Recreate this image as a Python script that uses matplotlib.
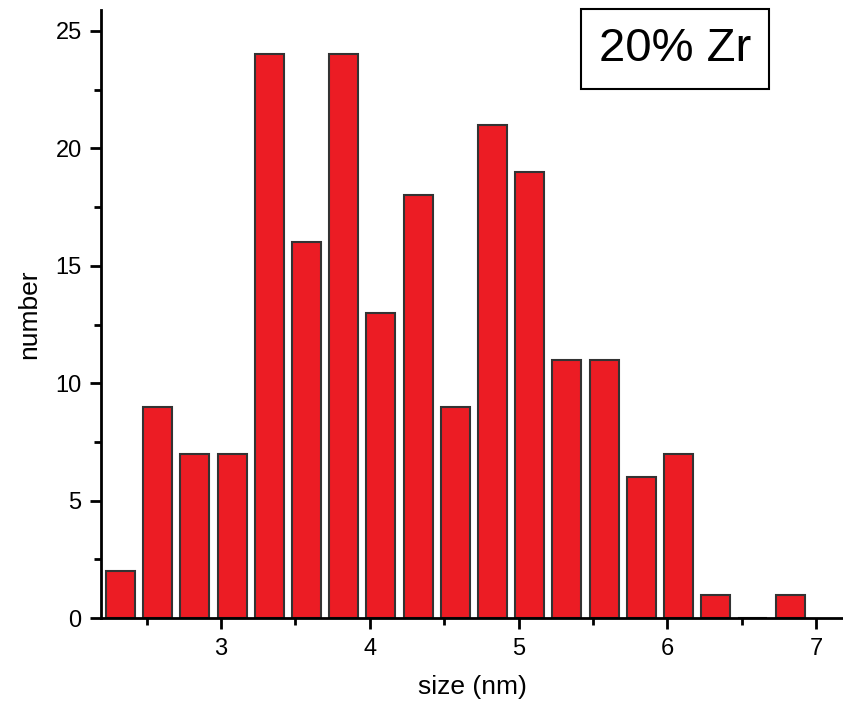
import matplotlib
matplotlib.use('Agg')
import matplotlib.pyplot as plt
from matplotlib.ticker import MultipleLocator

plt.rcParams['font.family'] = ['Liberation Sans', 'DejaVu Sans']

# bin centres (nm) and counts
sizes = [2.325, 2.575, 2.825, 3.075, 3.325, 3.575, 3.825, 4.075, 4.325, 4.575,
         4.825, 5.075, 5.325, 5.575, 5.825, 6.075, 6.325, 6.575, 6.825]
counts = [2, 9, 7, 7, 24, 16, 24, 13, 18, 9, 21, 19, 11, 11, 6, 7, 1, 0, 1]
label = '20% Zr'

fig = plt.figure(figsize=(8.43, 7.04), dpi=100)
ax = fig.add_axes([0.12, 0.122, 0.88, 0.864])

ax.bar(sizes, counts, width=0.195, color='#ec1c24', edgecolor='#333333', linewidth=1.5)

ax.set_xlim(2.195, 7.18)
ax.set_ylim(0, 25.9)
ax.xaxis.set_major_locator(MultipleLocator(1))
ax.xaxis.set_minor_locator(MultipleLocator(0.5))
ax.yaxis.set_major_locator(MultipleLocator(5))
ax.yaxis.set_minor_locator(MultipleLocator(2.5))
ax.tick_params(which='major', direction='out', length=8, width=2, labelsize=17, pad=6)
ax.tick_params(which='minor', direction='out', length=5, width=2)

for side in ['top', 'right']:
    ax.spines[side].set_visible(False)
for side in ['left', 'bottom']:
    ax.spines[side].set_linewidth(2)

ax.set_xlabel('size (nm)', fontsize=19, labelpad=11)
ax.set_ylabel('number', fontsize=19, labelpad=10)

fig.text(0.801, 0.930, label, fontsize=34, ha='center', va='center',
         bbox=dict(boxstyle='square,pad=0.38', facecolor='white', edgecolor='black', linewidth=1.5))

fig.savefig('out.png', dpi=100)
